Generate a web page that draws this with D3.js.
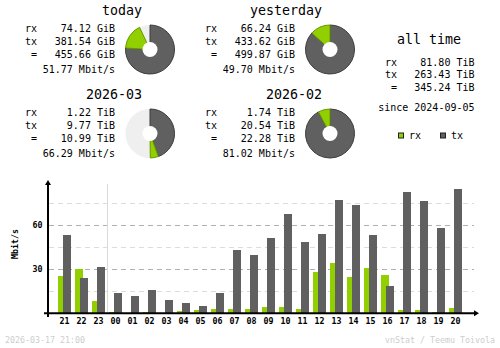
<!DOCTYPE html>
<html><head><meta charset="utf-8">
<script src="https://cdn.jsdelivr.net/npm/d3@7"></script>
<style>
html,body{margin:0;padding:0;background:#fff;}
svg{display:block;}
text{font-family:"DejaVu Sans Mono",monospace;}
</style></head>
<body>
<svg id="c" width="500" height="348"></svg>
<script>
// ---- summary data ----
const periods   = ["today", "yesterday", "2026-03", "2026-02"];
const rxText    = ["74.12 GiB", "66.24 GiB", "1.22 TiB", "1.74 TiB"];
const txText    = ["381.54 GiB", "433.62 GiB", "9.77 TiB", "20.54 TiB"];
const totText   = ["455.66 GiB", "499.87 GiB", "10.99 TiB", "22.28 TiB"];
const rateText  = ["51.77 Mbit/s", "49.70 Mbit/s", "66.29 Mbit/s", "81.02 Mbit/s"];
// donut shares (percent of full circle)
const txPct     = [76.0, 86.75, 44.5, 92.2];
const rxPct     = [17.0, 13.25, 5.3, 7.8];

const allTimeLabel = "all time";
const allTimeRx  = "81.80 TiB";
const allTimeTx  = "263.43 TiB";
const allTimeTot = "345.24 TiB";
const sinceText  = "since 2024-09-05";

// ---- hourly data (Mbit/s) ----
const hours  = ["21","22","23","00","01","02","03","04","05","06","07","08",
                "09","10","11","12","13","14","15","16","17","18","19","20"];
const rxRate = [25.4,30.2,8.4,0.9,0,0.9,0,1.6,2.3,2.9,2.9,2.9,
                4.3,4.3,2.9,28.2,34.3,24.8,30.9,26.1,2.3,2.3,0.9,3.6];
const txRate = [53.4,24.1,31.6,13.8,11.8,15.9,9.1,7.0,5.0,13.8,43.2,39.8,
                51.4,67.7,48.6,54.1,77.3,73.9,53.4,18.6,82.7,76.6,58.2,84.8];
const yTicks = [30, 60];
const yGrid  = [15, 30, 45, 60, 75];
const dayBreak = "00";
const unitLabel = "Mbit/s";
const stampText = "2026-03-17 21:00";
const creditText = "vnStat / Teemu Toivola";

const C = {rx:"#92cf00", tx:"#606060", rxd:"#6a9800", txd:"#3c3c3c",
           bgoff:"#efefef", line:"#b0b0b0", lineL:"#dcdcdc", faint:"#cdcdcd"};

const svg = d3.select("#c");

// ---- summary blocks ----
const blockPos = [[0,0],[180,0],[0,84],[180,84]];
periods.forEach((p,i)=>{
  const [dx,dy] = blockPos[i];
  const g = svg.append("g").attr("transform",`translate(${dx},${dy})`);
  g.append("text").attr("x",142).attr("y",15).attr("text-anchor","end")
    .attr("font-size","13.3px").text(p);
  const rows = [["rx",rxText[i],32],["tx",txText[i],45],[" =",totText[i],58]];
  rows.forEach(r=>{
    g.append("text").attr("x",25).attr("y",r[2]).attr("font-size","10px")
      .attr("xml:space","preserve").style("white-space","pre").text(r[0]);
    g.append("text").attr("x",115).attr("y",r[2]).attr("font-size","10px")
      .attr("text-anchor","end").text(r[1]);
  });
  g.append("text").attr("x",115).attr("y",73).attr("font-size","10px")
    .attr("text-anchor","end").text(rateText[i]);

  // donut
  const cx = 150, cy = 49.5, R = 24.5, hole = 7.5;
  const pg = g.append("g").attr("transform",`translate(${cx},${cy})`);
  if (txPct[i] + rxPct[i] < 100) {
    pg.append("circle").attr("r",R).attr("fill",C.bgoff);
  }
  const arc = d3.arc().innerRadius(0).outerRadius(R);
  const a0 = 0, a1 = txPct[i]/100*2*Math.PI, a2 = a1 + rxPct[i]/100*2*Math.PI;
  pg.append("path").attr("d",arc({startAngle:a0,endAngle:a1}))
    .attr("fill",C.tx).attr("stroke",C.txd).attr("stroke-width",1);
  pg.append("path").attr("d",arc({startAngle:a1,endAngle:a2}))
    .attr("fill",C.rx).attr("stroke",C.rxd).attr("stroke-width",1);
  pg.append("circle").attr("r",hole).attr("fill","#fff");
});

// ---- all time ----
const at = svg.append("g");
at.append("text").attr("x",397).attr("y",44).attr("font-size","13.3px")
  .attr("xml:space","preserve").style("white-space","pre").text(allTimeLabel);
[["rx",allTimeRx,65.5],["tx",allTimeTx,78],[" =",allTimeTot,91]].forEach(r=>{
  at.append("text").attr("x",385).attr("y",r[2]).attr("font-size","10px")
    .attr("xml:space","preserve").style("white-space","pre").text(r[0]);
  at.append("text").attr("x",474.5).attr("y",r[2]).attr("font-size","10px")
    .attr("text-anchor","end").text(r[1]);
});
at.append("text").attr("x",474.5).attr("y",111).attr("font-size","10px")
  .attr("text-anchor","end").text(sinceText);
// legend
[["rx",C.rx,398.5],["tx",C.tx,440.5]].forEach(l=>{
  at.append("rect").attr("x",l[2]).attr("y",133).attr("width",5).attr("height",5)
    .attr("fill",l[1]).attr("stroke","#202020").attr("stroke-width",1);
  at.append("text").attr("x",l[2]+10.5).attr("y",139).attr("font-size","10px").text(l[0]);
});

// ---- hourly chart ----
const x = d3.scaleBand().domain(hours).range([56, 56+17*hours.length]).padding(0);
const y = d3.scaleLinear().domain([0, 90]).range([313.3, 181.3]);
const ch = svg.append("g");

// grid
yGrid.forEach(v=>{
  ch.append("line").attr("x1",49).attr("x2",474).attr("y1",Math.round(y(v))+0.5).attr("y2",Math.round(y(v))+0.5)
    .attr("stroke", yTicks.includes(v) ? C.line : C.lineL).attr("stroke-width",1)
    .attr("stroke-dasharray","5,4").attr("shape-rendering","crispEdges");
});
// day break line
const xb = x(dayBreak) + 0.5;
ch.append("line").attr("x1",xb).attr("x2",xb).attr("y1",184).attr("y2",313)
  .attr("stroke","#dadada").attr("stroke-width",1).attr("shape-rendering","crispEdges");

// bars
ch.selectAll(".rx").data(hours).join("rect")
  .attr("x",h=>x(h)+2).attr("width",8)
  .attr("y",(h,i)=>y(rxRate[i])).attr("height",(h,i)=>y(0)-y(rxRate[i]))
  .attr("fill",C.rx).attr("shape-rendering","crispEdges");
ch.selectAll(".tx").data(hours).join("rect")
  .attr("x",h=>x(h)+7).attr("width",8)
  .attr("y",(h,i)=>y(txRate[i])).attr("height",(h,i)=>y(0)-y(txRate[i]))
  .attr("fill",C.tx).attr("shape-rendering","crispEdges");

// axes
ch.append("line").attr("x1",48).attr("x2",48).attr("y1",183).attr("y2",317)
  .attr("stroke","#000").attr("stroke-width",2);
ch.append("path").attr("d","M45,185 L51,185 L48,180 Z").attr("fill","#000");
ch.append("line").attr("x1",44).attr("x2",475).attr("y1",313.3).attr("y2",313.3)
  .attr("stroke","#000").attr("stroke-width",2);
ch.append("path").attr("d","M474,310.3 L474,316.3 L479,313.3 Z").attr("fill","#000");

// y tick labels
yTicks.forEach(v=>{
  ch.append("text").attr("x",42.5).attr("y",y(v)+3).attr("text-anchor","end")
    .attr("font-size","8.3px").attr("font-weight","bold").text(v);
});
// x labels
ch.selectAll(".hl").data(hours).join("text")
  .attr("x",h=>x(h)+8.5).attr("y",324).attr("text-anchor","middle")
  .attr("font-size","8.3px").attr("font-weight","bold").text(h=>h);
// unit label
ch.append("text").attr("transform","translate(17.5,244) rotate(-90)")
  .attr("text-anchor","middle").attr("font-size","8.3px").attr("font-weight","bold").text(unitLabel);

// footer
svg.append("text").attr("x",5).attr("y",343).attr("font-size","8.3px")
  .attr("fill",C.faint).text(stampText);
svg.append("text").attr("x",495).attr("y",343).attr("font-size","8.3px")
  .attr("text-anchor","end").attr("fill",C.faint).text(creditText);
</script>
</body></html>
